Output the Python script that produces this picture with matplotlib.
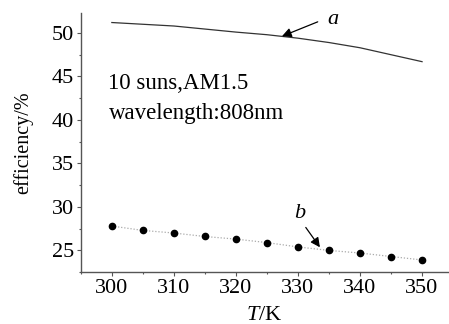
import matplotlib.pyplot as plt
from matplotlib.ticker import MultipleLocator

plt.rcParams['font.family'] = ['Liberation Serif', 'DejaVu Serif']
plt.rcParams['mathtext.fontset'] = 'custom'
plt.rcParams['mathtext.rm'] = 'Liberation Serif'
plt.rcParams['mathtext.it'] = 'Liberation Serif:italic'

# curve a (solid line)
t_a = [300, 305, 310, 315, 320, 325, 330, 335, 340, 345, 350]
eff_a = [51.2, 51.0, 50.8, 50.45, 50.1, 49.8, 49.4, 48.9, 48.3, 47.5, 46.7]

# curve b (dots joined by a dotted line)
t_b = [300, 305, 310, 315, 320, 325, 330, 335, 340, 345, 350]
eff_b = [27.8, 27.3, 27.0, 26.6, 26.3, 25.9, 25.4, 25.0, 24.7, 24.3, 23.9]

fig = plt.figure(figsize=(4.49, 3.24), dpi=100)
ax = fig.add_axes([0.180, 0.160, 0.818, 0.800])

ax.plot(t_a, eff_a, color='#333333', lw=0.9)
ax.plot(t_b, eff_b, color='#aaaaaa', lw=0.9, ls=(0, (1, 1.5)))
ax.plot(t_b, eff_b, 'o', color='black', ms=4.5, ls='none')

ax.set_xlim(295, 354.2)
ax.set_ylim(22.5, 52.3)
ax.xaxis.set_major_locator(MultipleLocator(10))
ax.xaxis.set_minor_locator(MultipleLocator(5))
ax.yaxis.set_major_locator(MultipleLocator(5))
ax.yaxis.set_minor_locator(MultipleLocator(2.5))

for s in ['top', 'right']:
    ax.spines[s].set_visible(False)
for s in ['left', 'bottom']:
    ax.spines[s].set_color('#555555')
    ax.spines[s].set_linewidth(1.0)

ax.tick_params(which='major', direction='out', length=3, width=0.8,
               color='#555555', labelsize=16, pad=2)
ax.tick_params(which='minor', direction='out', length=1.5, width=0.8,
               color='#555555')

ax.set_ylabel('efficiency/%', fontsize=14.5, labelpad=13)
ax.set_xlabel('$\\mathit{T}$/K', fontsize=16, labelpad=6)

ax.text(299.4, 44.2, '10 suns,AM1.5', fontsize=16.5, va='center', ha='left')
ax.text(299.6, 40.7, 'wavelength:808nm', fontsize=16.5, va='center', ha='left')

ax.annotate('', xy=(327, 49.5), xytext=(333.6, 51.4),
            arrowprops=dict(arrowstyle='-|>', color='black', lw=0.9,
                            mutation_scale=14))
ax.text(334.7, 51.6, 'a', fontsize=16, style='italic', va='center', ha='left')

ax.annotate('', xy=(333.8, 25.1), xytext=(331.0, 27.9),
            arrowprops=dict(arrowstyle='-|>', color='black', lw=0.9,
                            mutation_scale=14))
ax.text(330.3, 29.2, 'b', fontsize=16, style='italic', va='center', ha='center')

fig.savefig('out.png', dpi=100)
